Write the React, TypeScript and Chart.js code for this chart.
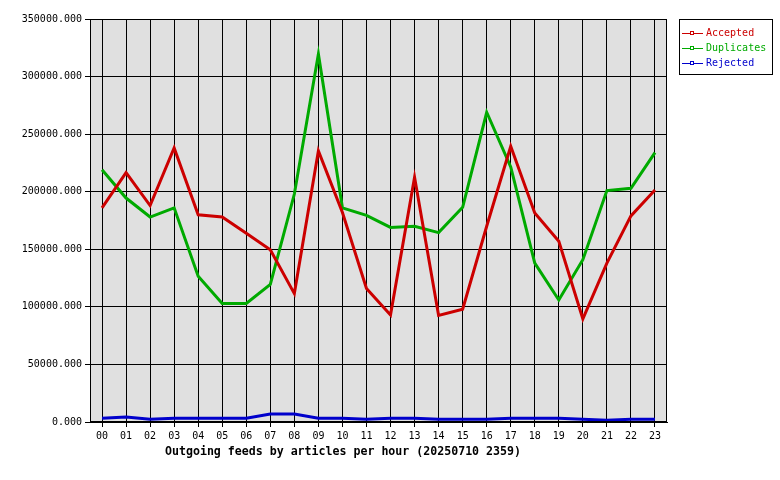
import React, { useEffect, useRef } from "react";
import { Chart, registerables } from "chart.js";

Chart.register(...registerables);

const hours = ["00","01","02","03","04","05","06","07","08","09","10","11","12","13","14","15","16","17","18","19","20","21","22","23"];
const accepted = [186000, 216500, 188000, 238000, 180000, 178000, 164000, 149500, 111500, 235500, 182000, 116000, 93000, 212500, 92500, 98000, 170000, 239500, 181500, 157000, 89500, 138000, 179000, 201500];
const duplicates = [219000, 194500, 178000, 186000, 126500, 103000, 103000, 119500, 198000, 319500, 186000, 179500, 169000, 170000, 164500, 186500, 269000, 221500, 138000, 106000, 141000, 201000, 203000, 234000];
const rejected = [3200, 4300, 2300, 3200, 3200, 3200, 3200, 7000, 7000, 3200, 3200, 2300, 3200, 3200, 2300, 2300, 2300, 3200, 3200, 3200, 2300, 1600, 2300, 2300];
const seriesNames = ["Accepted", "Duplicates", "Rejected"];
const seriesColors = ["#cc0000", "#00aa00", "#0000cc"];
const titleText = "Outgoing feeds by articles per hour (20250710 2359)";
const yTicks = { min: 0, max: 350000, step: 50000 };

const MONO = "'DejaVu Sans Mono', monospace";

const decorPlugin = {
  id: "decor",
  beforeDraw(chart: any) {
    const { ctx, chartArea } = chart;
    ctx.save();
    ctx.fillStyle = "#ffffff";
    ctx.fillRect(0, 0, chart.width, chart.height);
    ctx.fillStyle = "#e0e0e0";
    ctx.fillRect(chartArea.left, chartArea.top, chartArea.right - chartArea.left, chartArea.bottom - chartArea.top);
    ctx.restore();
  },
  afterDraw(chart: any) {
    const { ctx, chartArea } = chart;
    ctx.save();
    ctx.strokeStyle = "#000000";
    ctx.lineWidth = 1;
    ctx.strokeRect(Math.round(chartArea.left) + 0.5, Math.round(chartArea.top) + 0.5, Math.round(chartArea.right - chartArea.left) - 1, Math.round(chartArea.bottom - chartArea.top) - 1);

    // legend
    const lx = 679, ly = 19, lw = 94, lh = 56;
    ctx.fillStyle = "#ffffff";
    ctx.fillRect(lx, ly, lw, lh);
    ctx.strokeRect(lx + 0.5, ly + 0.5, lw - 1, lh - 1);
    ctx.font = `10px ${MONO}`;
    ctx.textBaseline = "middle";
    ctx.textAlign = "left";
    chart.data.datasets.forEach((ds: any, i: number) => {
      const y = ly + 14 + i * 15;
      ctx.strokeStyle = ds.borderColor;
      ctx.lineWidth = 1;
      ctx.beginPath();
      ctx.moveTo(lx + 3, y + 0.5);
      ctx.lineTo(lx + 24, y + 0.5);
      ctx.stroke();
      ctx.fillStyle = "#ffffff";
      ctx.fillRect(lx + 11, y - 2, 4, 4);
      ctx.strokeRect(lx + 11.5, y - 1.5, 3, 3);
      ctx.fillStyle = ds.borderColor;
      ctx.fillText(ds.label, lx + 27, y);
    });

    // title
    ctx.fillStyle = "#000000";
    ctx.font = `bold 11.6px ${MONO}`;
    ctx.textAlign = "left";
    ctx.fillText(titleText, 165, 452);
    ctx.restore();
  },
};

export default function App() {
  const ref = useRef<HTMLCanvasElement>(null);
  useEffect(() => {
    if (!ref.current) return;
    const data = [accepted, duplicates, rejected];
    const chart = new Chart(ref.current, {
      type: "line",
      data: {
        labels: hours,
        datasets: data.map((d, i) => ({
          label: seriesNames[i],
          data: d,
          borderColor: seriesColors[i],
          backgroundColor: seriesColors[i],
          borderWidth: 3,
          pointRadius: 0,
          tension: 0,
          fill: false,
        })),
      },
      options: {
        responsive: false,
        animation: false,
        layout: { padding: { left: 0, right: 113, top: 19, bottom: 0 } },
        plugins: { legend: { display: false }, tooltip: { enabled: false }, title: { display: false } },
        scales: {
          x: {
            type: "category",
            offset: true,
            grid: { color: "#000000", lineWidth: 1, offset: false, drawTicks: true, tickLength: 5, tickColor: "#000000" },
            border: { display: true, color: "#000000" },
            ticks: { color: "#000000", font: { family: MONO, size: 10 }, padding: 3, maxRotation: 0, autoSkip: false },
            afterFit: (s: any) => { s.height = 58; },
          },
          y: {
            min: yTicks.min,
            max: yTicks.max,
            grid: { color: "#000000", lineWidth: 1, drawTicks: true, tickLength: 5, tickColor: "#000000" },
            border: { display: true, color: "#000000" },
            ticks: {
              stepSize: yTicks.step,
              color: "#000000",
              font: { family: MONO, size: 10 },
              padding: 3,
              callback: (v: any) => Number(v).toFixed(3),
            },
            afterFit: (s: any) => { s.width = 90; },
          },
        },
      },
      plugins: [decorPlugin],
    });
    return () => chart.destroy();
  }, []);
  return (
    <div style={{ position: "fixed", left: 0, top: 0, width: 780, height: 480 }}>
      <canvas ref={ref} width={780} height={480} style={{ width: 780, height: 480 }} />
    </div>
  );
}
